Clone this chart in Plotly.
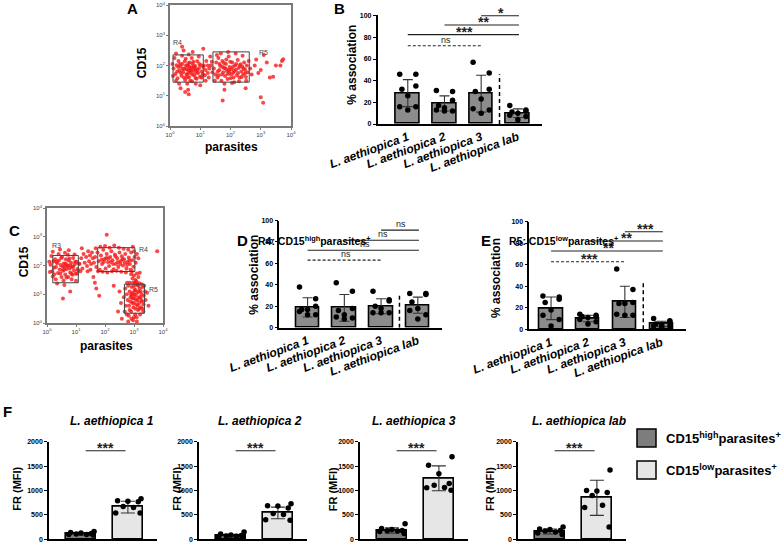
import plotly.graph_objects as go

W, H = 784, 543
def fx(p): return p / W
def fy(p): return 1 - p / H

# ================= DATA =================
CATEGORIES = ["L. aethiopica 1", "L. aethiopica 2", "L. aethiopica 3", "L. aethiopica lab"]
FLOW_TICKS = [0, 1, 2, 3, 4]

# Panel A events: (log10 parasites, log10 CD15) * 100
A_EVENTS_R4 = [(12,190),(18,172),(22,201),(25,158),(28,215),(31,183),(35,196),(38,166),(41,205),(44,178),
(47,190),(50,152),(52,222),(55,170),(58,199),(60,184),(63,161),(65,210),(68,176),(70,193),
(73,148),(75,205),(78,182),(80,168),(83,198),(86,187),(88,156),(90,214),(93,175),(96,192),
(99,163),(102,201),(105,180),(108,171),(20,150),(15,225),(30,140),(40,232),(57,140),(62,236),
(72,225),(85,140),(95,230),(110,195),(115,168),(24,180),(33,205),(46,160),(49,214),(54,188),
(59,173),(64,195),(67,150),(71,186),(77,212),(81,192),(84,159),(91,184),(97,205),(104,160),
(27,195),(36,175),(42,188),(53,200),(56,160),(61,207),(66,183),(74,170),(79,197),(87,176),
(10,165),(8,205),(118,185),(125,200),(35,125),(60,120),(45,250),(75,245),(100,135),(20,240)]
A_EVENTS_R5 = [(145,190),(150,170),(153,210),(157,160),(160,225),(163,185),(166,198),(170,150),(173,215),(176,178),
(179,192),(182,165),(185,205),(188,183),(191,172),(194,230),(197,195),(200,158),(203,188),(206,210),
(209,176),(212,145),(215,200),(218,186),(221,168),(224,218),(227,192),(230,160),(233,204),(236,180),
(239,196),(242,170),(245,210),(248,187),(251,162),(254,200),(257,178),(260,215),(148,150),(155,235),
(168,240),(180,140),(192,245),(205,142),(217,240),(228,148),(240,232),(252,150),(158,180),(164,205),
(172,170),(178,208),(184,190),(190,155),(196,178),(199,212),(202,170),(208,195),(213,182),(219,205),
(225,175),(231,198),(237,162),(243,190),(249,175),(186,220),(194,185),(210,160),(174,195),(161,168),
(135,200),(140,178),(265,190),(270,170),(280,200),(300,185),(320,210),(350,200),(370,215),(330,160),
(292,175),(310,235),(285,220),(250,125),(180,120)]
A_EVENTS_OTHER = [(112,200),(120,215),(125,175),(130,190),(133,230),(128,160),(40,262),(110,255),
(62,105),(50,112),(138,212),(118,150),(174,84),(308,77),(300,95),(341,163),(374,221),(365,200)]
A_GATES = [("R4", 10, 110, 145, 235), ("R5", 142, 262, 145, 245)]
A_GATE_LABELS = [("R4", 4, 275), ("R5", 288, 242)]

# Panel C events
C_EVENTS_R3 = [(12,203),(18,180),(22,214),(25,170),(28,222),(31,195),(35,208),(38,174),(41,217),(44,186),
(47,202),(50,160),(52,230),(55,182),(58,207),(60,196),(63,169),(65,222),(68,188),(70,201),
(73,160),(75,217),(78,190),(80,176),(83,210),(86,195),(88,168),(90,226),(93,183),(96,204),
(99,171),(102,213),(105,188),(108,183),(20,162),(15,233),(30,152),(40,240),(57,148),(62,244),
(72,237),(85,152),(95,238),(110,207),(115,180),(24,192),(33,213),(46,172),(49,226),(54,196),
(59,185),(64,207),(67,158),(71,198),(77,224),(81,200),(84,171),(91,196),(97,213),(104,172),
(10,177),(8,213),(35,137),(60,132),(45,256),(75,253),(20,248),(100,147),(55,85),(80,110)]
C_EVENTS_R4 = [(162,210),(166,230),(170,195),(174,245),(178,215),(182,185),(186,235),(190,205),(194,255),(198,222),
(202,190),(206,240),(210,212),(214,198),(218,230),(222,250),(226,218),(230,187),(234,238),(238,205),
(242,225),(246,195),(250,245),(254,215),(258,232),(262,200),(266,222),(270,240),(274,190),(278,212),
(282,228),(286,205),(290,245),(294,218),(298,196),(302,230),(306,210),(168,260),(184,265),(200,268),
(216,262),(232,270),(248,262),(264,258),(280,255),(176,180),(192,178),(208,176),(224,180),(240,182),
(256,178),(272,176),(288,185),(196,212),(212,225),(228,205),(244,212),(260,222),(276,202),(236,232),
(220,212),(204,226),(252,205),(268,210),(284,218),(188,220),(300,250),(310,240),(315,225),(296,265)]
C_EVENTS_BRIDGE = [(112,205),(118,225),(122,190),(126,240),(130,210),(135,230),(138,198),(142,250),(145,215),
(148,235),(152,205),(155,245),(158,225),(120,260),(140,180),(150,185),(160,160),(165,140),(170,120),
(290,170),(300,165),(310,172),(295,155),(305,150),(315,160),(298,140),(308,145),(318,138),(300,128),
(312,132),(293,180),(320,175),(206,307),(380,250),(255,70),(250,110),(245,40),(258,15),(180,95),(230,130)]
C_EVENTS_R5 = [(270,120),(275,100),(278,80),(280,130),(283,60),(285,110),(288,90),(290,40),(292,125),(294,70),
(296,105),(298,55),(300,85),(302,115),(304,30),(306,95),(308,65),(310,135),(312,80),(314,45),
(316,110),(318,70),(320,120),(322,90),(324,55),(326,100),(328,75),(330,125),(332,40),(334,95),
(272,60),(276,140),(282,25),(286,140),(291,15),(297,10),(303,140),(309,20),(315,130),(321,30),
(327,135),(333,65),(338,110),(340,80),(265,90),(268,40),(287,75),(293,95),(299,70),(305,50),
(311,105),(317,90),(323,110),(329,50),(295,85),(301,100),(307,80),(313,60),(319,50),(325,80),
(280,5),(290,100),(300,20),(310,5),(305,115),(285,45),(275,30),(335,130),(345,105),(350,60)]
C_GATES = [("R3", 20, 108, 140, 235), ("R4", 175, 303, 179, 262), ("R5", 267, 336, 34, 135)]
C_GATE_LABELS = [("R3", 10, 268), ("R4", 310, 257), ("R5", 345, 115)]

# Panel B: % association
B_MEANS = [28.5, 19, 28, 10]
B_SD = [12.5, 7, 17, 4]
B_POINTS = [[46,46,35,32,26,16,16,13], [31,30,22,17,15,13,12,12],
            [57,47,32,30,23,14,13,10], [17,13,12,11,10,8,7,4]]
B_COMPARISONS = [(2, 3, 100, "*", "solid"), (1, 3, 91.4, "**", "solid"),
                 (0, 3, 82.5, "***", "solid"), (0, 2, 72.3, "ns", "dash")]
B_DIVIDER_TOP = 46

# Panel D: R4 CD15high parasites+
D_MEANS = [19, 18.5, 20, 21]
D_SD = [9, 12.5, 7, 7.5]
D_POINTS = [[38,27,20,17,17,15,12,12], [42,34,18,16,12,10,9,8],
            [34,26,25,20,18,14,14,14], [32,32,31,24,18,16,12,8]]
D_COMPARISONS = [(2, 3, 91, "ns", "solid"), (1, 3, 81.6, "ns", "solid"),
                 (0, 3, 72.3, "ns", "solid"), (0, 2, 63, "ns", "dash")]
D_DIVIDER_TOP = 30

# Panel E: R5 CD15low parasites+
E_MEANS = [19.5, 10, 25.5, 5]
E_SD = [10.5, 3, 14.5, 2.5]
E_POINTS = [[31,30,28,25,18,13,9,3], [14,13,12,12,11,9,7,5],
            [56,37,25,24,24,14,13,13], [10,8,7,5,4,3,3,2]]
E_COMPARISONS = [(2, 3, 90.7, "***", "solid"), (1, 3, 82, "**", "solid"),
                 (0, 3, 72.8, "**", "solid"), (0, 2, 62.8, "***", "dash")]
E_DIVIDER_TOP = 43

# Panel F: FR (MFI)
F_TITLES = ["L. aethiopica 1", "L. aethiopica 2", "L. aethiopica 3", "L. aethiopica lab"]
F_HIGH_MEANS = [110, 75, 180, 160]
F_HIGH_SD = [25, 30, 55, 50]
F_LOW_MEANS = [660, 540, 1250, 850]
F_LOW_SD = [120, 120, 255, 360]
F_HIGH_POINTS = [[160,140,130,120,110,100,100,90], [150,110,90,80,70,60,50,50],
                 [320,220,200,180,175,170,160,120], [250,210,200,180,170,150,130,100]]
F_LOW_POINTS = [[830,790,780,770,670,650,540,540], [730,690,680,640,530,510,400,390],
                [1690,1515,1345,1145,1110,1060,1055,1005], [1420,1000,990,960,900,700,650,250]]
F_SIGNIF = ["***", "***", "***", "***"]
F_SIGNIF_Y = 1815
LEGEND_LABELS = ["CD15<sup>high</sup>parasites<sup>+</sup>", "CD15<sup>low</sup>parasites<sup>+</sup>"]

# ================= STYLE =================
FONT = "Arial, Liberation Sans, sans-serif"
RED = "rgb(245,25,25)"
BAR_GRAY = "#8c8c8c"
DARK_BAR = "#7d7d7d"
LIGHT_BAR = "#e6e6e6"
JIT = [-0.22, 0.22, 0.22, -0.16, 0.0, -0.22, 0.22, 0.0]
FJIT = [0.28, -0.22, 0.0, 0.22, -0.1, 0.12, -0.26, 0.26]

fig = go.Figure()
layout = {}
shapes = []
annots = []

def ax_names(n):
    return ("x" if n == 1 else f"x{n}", "y" if n == 1 else f"y{n}",
            "xaxis" if n == 1 else f"xaxis{n}", "yaxis" if n == 1 else f"yaxis{n}")

def ann(text, x, y, size, bold=True, italic=False, angle=0, color="black", xanchor="center", yanchor="middle"):
    annots.append(dict(text=text, x=fx(x), y=fy(y), xref="paper", yref="paper", showarrow=False,
                       textangle=angle, xanchor=xanchor, yanchor=yanchor,
                       font=dict(family=FONT, size=size, color=color,
                                 weight="bold" if bold else "normal",
                                 style="italic" if italic else "normal")))

def star_ann(txt, x, y, xr, yr):
    is_ns = txt == "ns"
    annots.append(dict(text=txt, x=x, y=y, xref=xr, yref=yr, showarrow=False,
                       yanchor="bottom", yshift=-1 if is_ns else -7,
                       font=dict(family=FONT, size=9 if is_ns else 14, color="#222",
                                 weight="normal" if is_ns else "bold")))

# ---------- flow panels ----------
def flow_panel(n, xdom, ydom, clouds, gates, labels):
    xr, yr, xa, ya = ax_names(n)
    for pts in clouds:
        fig.add_trace(go.Scatter(x=[p[0] / 100 for p in pts], y=[p[1] / 100 for p in pts],
                                 mode="markers", xaxis=xr, yaxis=yr, showlegend=False, hoverinfo="skip",
                                 marker=dict(color=RED, size=4, opacity=0.8, line=dict(width=0))))
    common = dict(range=[0, 4], tickvals=FLOW_TICKS, automargin=False,
                  ticktext=[f"10<sup>{t}</sup>" for t in FLOW_TICKS],
                  showline=True, mirror=True, linecolor="#7a7a7a", linewidth=1.5,
                  ticks="outside", ticklen=2, tickcolor="#7a7a7a", showgrid=False, zeroline=False,
                  tickfont=dict(family=FONT, size=6, color="#444"))
    layout[xa] = dict(domain=[fx(xdom[0]), fx(xdom[1])], anchor=yr, **common)
    layout[ya] = dict(domain=[fy(ydom[1]), fy(ydom[0])], anchor=xr, **common)
    for name, x0, x1, y0, y1 in gates:
        shapes.append(dict(type="rect", xref=xr, yref=yr, x0=x0 / 100, x1=x1 / 100, y0=y0 / 100, y1=y1 / 100,
                           line=dict(color="#444", width=1)))
    for name, x, y in labels:
        annots.append(dict(text=name, x=x / 100, y=y / 100, xref=xr, yref=yr, showarrow=False,
                           xanchor="left", font=dict(family=FONT, size=7, color="#444")))

flow_panel(1, (170, 291), (5, 126), [A_EVENTS_R4, A_EVENTS_R5, A_EVENTS_OTHER], A_GATES, A_GATE_LABELS)
flow_panel(3, (47, 163), (208, 323), [C_EVENTS_R3, C_EVENTS_R4, C_EVENTS_BRIDGE, C_EVENTS_R5], C_GATES, C_GATE_LABELS)
ann("CD15", 142.7, 62.5, 12, angle=-90)
ann("parasites", 231, 146.7, 12)
ann("CD15", 24.3, 262, 12, angle=-90)
ann("parasites", 106, 346, 12)

# ---------- bar panels ----------
def bar_panel(n, xdom, ydom, xrange, yrange, means, sd, points, comps, divider_top):
    xr, yr, xa, ya = ax_names(n)
    xs = list(range(len(means)))
    fig.add_trace(go.Bar(x=xs, y=means, width=0.64, xaxis=xr, yaxis=yr, showlegend=False,
                         marker=dict(color=BAR_GRAY, line=dict(color="black", width=1.6)),
                         error_y=dict(type="data", array=sd, visible=True, color="#333", thickness=1.1, width=5)))
    px, py = [], []
    for i, vals in enumerate(points):
        for k, v in enumerate(vals):
            px.append(i + JIT[k % len(JIT)])
            py.append(v)
    fig.add_trace(go.Scatter(x=px, y=py, mode="markers", xaxis=xr, yaxis=yr, showlegend=False,
                             cliponaxis=False, marker=dict(color="black", size=5.5)))
    layout[xa] = dict(domain=[fx(xdom[0]), fx(xdom[1])], range=xrange, anchor=yr, automargin=False,
                      showline=True, linecolor="black", linewidth=1.6, ticks="", showgrid=False, zeroline=False,
                      tickvals=xs, ticktext=CATEGORIES, tickangle=-20,
                      tickfont=dict(family=FONT, size=12, color="black", weight="bold", style="italic"))
    layout[ya] = dict(domain=[fy(ydom[1]), fy(ydom[0])], range=yrange, anchor=xr, automargin=False,
                      showline=True, linecolor="black", linewidth=1.6, ticks="outside", ticklen=3,
                      tickwidth=1.2, tickcolor="black", showgrid=False, zeroline=False,
                      tickvals=[0, 20, 40, 60, 80, 100],
                      tickfont=dict(family=FONT, size=7, color="black", weight="bold"))
    shapes.append(dict(type="line", xref=xr, yref=yr, x0=2.5, x1=2.5, y0=0, y1=divider_top,
                       line=dict(color="black", width=1.5, dash="4px,3px")))
    for a, b, yv, txt, style in comps:
        shapes.append(dict(type="line", xref=xr, yref=yr, x0=a, x1=b + 0.03, y0=yv, y1=yv,
                           line=dict(color="#222", width=1.1, dash="3px,2px" if style == "dash" else "solid")))
        star_ann(txt, (a + b) / 2 + 0.05, yv, xr, yr)

bar_panel(2, (377.7, 541.7), (14.6, 124), [-0.82, 3.65], [0, 101], B_MEANS, B_SD, B_POINTS, B_COMPARISONS, B_DIVIDER_TOP)
bar_panel(4, (279.3, 441.7), (220.5, 327.7), [-0.77, 3.65], [0, 100], D_MEANS, D_SD, D_POINTS, D_COMPARISONS, D_DIVIDER_TOP)
bar_panel(5, (529.3, 685.7), (221.7, 329.3), [-0.59, 3.65], [0, 100], E_MEANS, E_SD, E_POINTS, E_COMPARISONS, E_DIVIDER_TOP)
ann("% association", 351.7, 65, 12, angle=-90)
ann("% association", 253.7, 275, 12, angle=-90)
ann("% association", 496, 278, 12, angle=-90)
ann("R4: CD15<sup>high</sup>parasites<sup>+</sup>", 314, 240, 10.5)
ann("R5: CD15<sup>low</sup>parasites<sup>+</sup>", 563, 240, 10.5)

# ---------- F panels ----------
F_XDOMS = [(49, 157), (199, 307), (360, 468), (518, 626)]
F_TITLE_X = [112, 260, 414, 579]
F_YTITLE_X = [16.7, 176.7, 333.3, 490]
for j in range(4):
    n = 6 + j
    xr, yr, xa, ya = ax_names(n)
    fig.add_trace(go.Bar(x=[0, 1], y=[F_HIGH_MEANS[j], F_LOW_MEANS[j]], width=0.64, xaxis=xr, yaxis=yr,
                         showlegend=False,
                         marker=dict(color=[DARK_BAR, LIGHT_BAR], line=dict(color="black", width=1.6)),
                         error_y=dict(type="data", array=[F_HIGH_SD[j], F_LOW_SD[j]], visible=True,
                                      color="#333", thickness=1.1, width=7)))
    px, py = [], []
    for i, vals in enumerate([F_HIGH_POINTS[j], F_LOW_POINTS[j]]):
        for k, v in enumerate(vals):
            px.append(i + FJIT[k % len(FJIT)])
            py.append(v)
    fig.add_trace(go.Scatter(x=px, y=py, mode="markers", xaxis=xr, yaxis=yr, showlegend=False,
                             cliponaxis=False, marker=dict(color="black", size=5.5)))
    layout[xa] = dict(domain=[fx(F_XDOMS[j][0]), fx(F_XDOMS[j][1])], range=[-0.68, 1.62], anchor=yr,
                      automargin=False,
                      showline=True, linecolor="black", linewidth=1.6, ticks="", showticklabels=False,
                      showgrid=False, zeroline=False)
    layout[ya] = dict(domain=[fy(539.3), fy(441.7)], range=[0, 2000], anchor=xr, automargin=False,
                      showline=True, linecolor="black", linewidth=1.6, ticks="outside", ticklen=3,
                      tickwidth=1.2, tickcolor="black", showgrid=False, zeroline=False,
                      tickvals=[0, 500, 1000, 1500, 2000],
                      tickfont=dict(family=FONT, size=7, color="black", weight="bold"))
    shapes.append(dict(type="line", xref=xr, yref=yr, x0=0.1, x1=0.95, y0=F_SIGNIF_Y, y1=F_SIGNIF_Y,
                       line=dict(color="#222", width=1.1)))
    star_ann(F_SIGNIF[j], 0.525, F_SIGNIF_Y, xr, yr)
    ann(F_TITLES[j], F_TITLE_X[j], 421, 12, italic=True)
    ann("FR (MFI)", F_YTITLE_X[j], 489, 11, angle=-90)

# legend
for k, (col, ytop) in enumerate([(DARK_BAR, 429), (LIGHT_BAR, 461)]):
    shapes.append(dict(type="rect", xref="paper", yref="paper", x0=fx(637), x1=fx(656),
                       y0=fy(ytop + 18), y1=fy(ytop), fillcolor=col, line=dict(color="black", width=1.5)))
    ann(LEGEND_LABELS[k], 664, ytop + 9, 13, xanchor="left")

# panel letters
for letter, x, y in [("A", 132, 9), ("B", 339, 9), ("C", 14, 230), ("D", 242, 240), ("E", 486, 240), ("F", 8, 411)]:
    ann(letter, x, y, 15)

layout.update(dict(width=W, height=H, margin=dict(l=0, r=0, t=0, b=0, autoexpand=False), autosize=False,
                   paper_bgcolor="white", plot_bgcolor="white", showlegend=False,
                   shapes=shapes, annotations=annots, bargap=0,
                   font=dict(family=FONT)))
fig.update_layout(**layout)
fig.write_html("out.html", config={"displayModeBar": False},
               post_script="document.body.style.margin='0';")
